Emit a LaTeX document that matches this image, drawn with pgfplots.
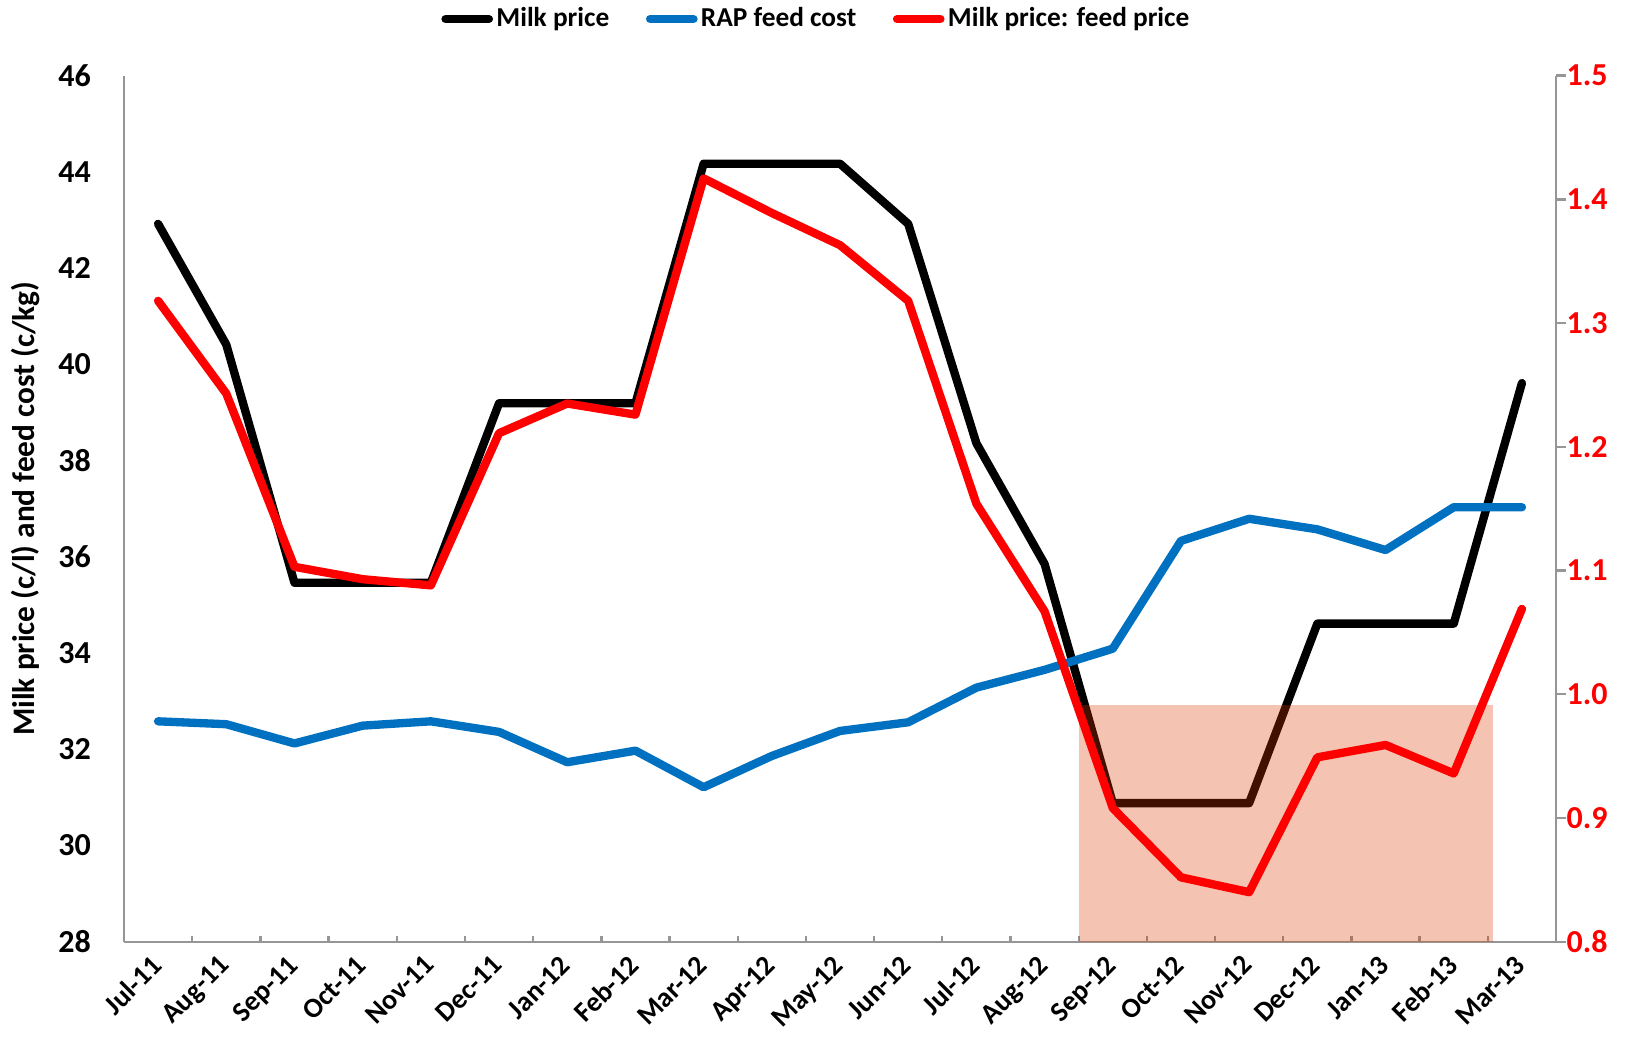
\documentclass[border=0pt]{standalone}
\usepackage{pgfplots}
\pgfplotsset{compat=1.18}
\usepackage{pgfplotstable}
\usepackage{fontspec}
\setmainfont{Carlito}
\definecolor{milkblue}{RGB}{0,112,192}
\definecolor{axgray}{RGB}{150,150,150}
\definecolor{shade}{RGB}{220,55,0}
\pgfplotstableread{
idx milk rap ratio
0 42.92 32.58 1.318
1 40.41 32.52 1.243
2 35.46 32.12 1.103
3 35.46 32.49 1.093
4 35.46 32.58 1.088
5 39.19 32.36 1.211
6 39.19 31.73 1.235
7 39.19 31.97 1.226
8 44.17 31.21 1.417
9 44.17 31.86 1.389
10 44.17 32.38 1.363
11 42.92 32.56 1.318
12 38.36 33.28 1.154
13 35.85 33.65 1.067
14 30.88 34.09 0.908
15 30.88 36.33 0.852
16 30.88 36.79 0.840
17 34.61 36.57 0.949
18 34.61 36.14 0.959
19 34.61 37.03 0.936
20 39.61 37.03 1.069
}\data
\begin{document}
\begin{tikzpicture}
\pgfplotsset{
  common/.style={
    scale only axis, width=429.6pt, height=259.8pt,
    xmin=-0.5, xmax=20.5,
    axis line style={draw=axgray, line width=0.7pt},
    /pgf/number format/assume math mode=true,
  }
}
\begin{axis}[common,
  ymin=28, ymax=46, ytick={28,30,...,46},
  axis x line*=bottom, axis y line*=left,
  xtick={0,...,20},
  xticklabels={Jul-11,Aug-11,Sep-11,Oct-11,Nov-11,Dec-11,Jan-12,Feb-12,Mar-12,Apr-12,May-12,Jun-12,Jul-12,Aug-12,Sep-12,Oct-12,Nov-12,Dec-12,Jan-13,Feb-13,Mar-13},
  minor xtick={0.5,1.5,...,19.5},
  major tick length=0pt, minor tick length=1.8pt, tick align=inside,
  minor tick style={draw=axgray, line width=0.7pt},
  xticklabel style={xshift=-2.5pt, yshift=-2pt, rotate=45, anchor=north east, font=\fontsize{8.4}{10}\selectfont\bfseries, inner sep=1pt},
  yticklabel style={font=\fontsize{9.6}{11}\selectfont\bfseries, xshift=-6.4pt},
  ylabel={Milk price (c/l) and feed cost (c/kg)},
  ylabel style={at={(axis description cs:-0.0691,0.5)}, anchor=center, font=\fontsize{9.4}{11}\selectfont\bfseries},
  legend columns=3,
  legend style={draw=none, fill=none, at={(0.484,1.0654)}, anchor=center,
    font=\fontsize{8.2}{10}\selectfont\bfseries, inner sep=0pt,
    /tikz/every even column/.append style={column sep=10pt},
    nodes={inner sep=1pt}},
  legend image code/.code={\draw[#1, line cap=round] (0pt,0pt) -- (13pt,0pt);},
]
\coordinate (SW) at (rel axis cs:0,0);
\coordinate (NE) at (rel axis cs:1,1);
\addplot[black, line width=2.5pt, line join=round, line cap=round] table[x=idx, y=milk] {\data};
\addlegendentry{Milk price}
\addplot[milkblue, line width=2.5pt, line join=round, line cap=round] table[x=idx, y=rap] {\data};
\addlegendentry{RAP feed cost}
\addlegendimage{red, line width=2.5pt}
\addlegendentry{Milk price: feed price}
\end{axis}
\begin{axis}[common,
  ymin=0.8, ymax=1.5, ytick={0.8,0.9,1.0,1.1,1.2,1.3,1.4,1.5},
  axis x line=none, axis y line*=right,
  major tick length=3pt, tick align=outside,
  tick style={draw=axgray, line width=0.7pt},
  yticklabel style={font=\fontsize{9.6}{11}\selectfont\bfseries, text=red, inner sep=1pt, xshift=-1pt,
    /pgf/number format/.cd, fixed, fixed zerofill, precision=1},
]
\addplot[draw=none, fill=shade, fill opacity=0.3] coordinates {(13.51,0.8) (13.51,0.991) (19.58,0.991) (19.58,0.8)} -- cycle;
\addplot[red, line width=2.5pt, line join=round, line cap=round] table[x=idx, y=ratio] {\data};
\end{axis}
\pgfresetboundingbox
\path (SW) ++(-37.2pt,-33.1pt) rectangle ([shift={(27pt,22.7pt)}]NE);
\end{tikzpicture}
\end{document}
